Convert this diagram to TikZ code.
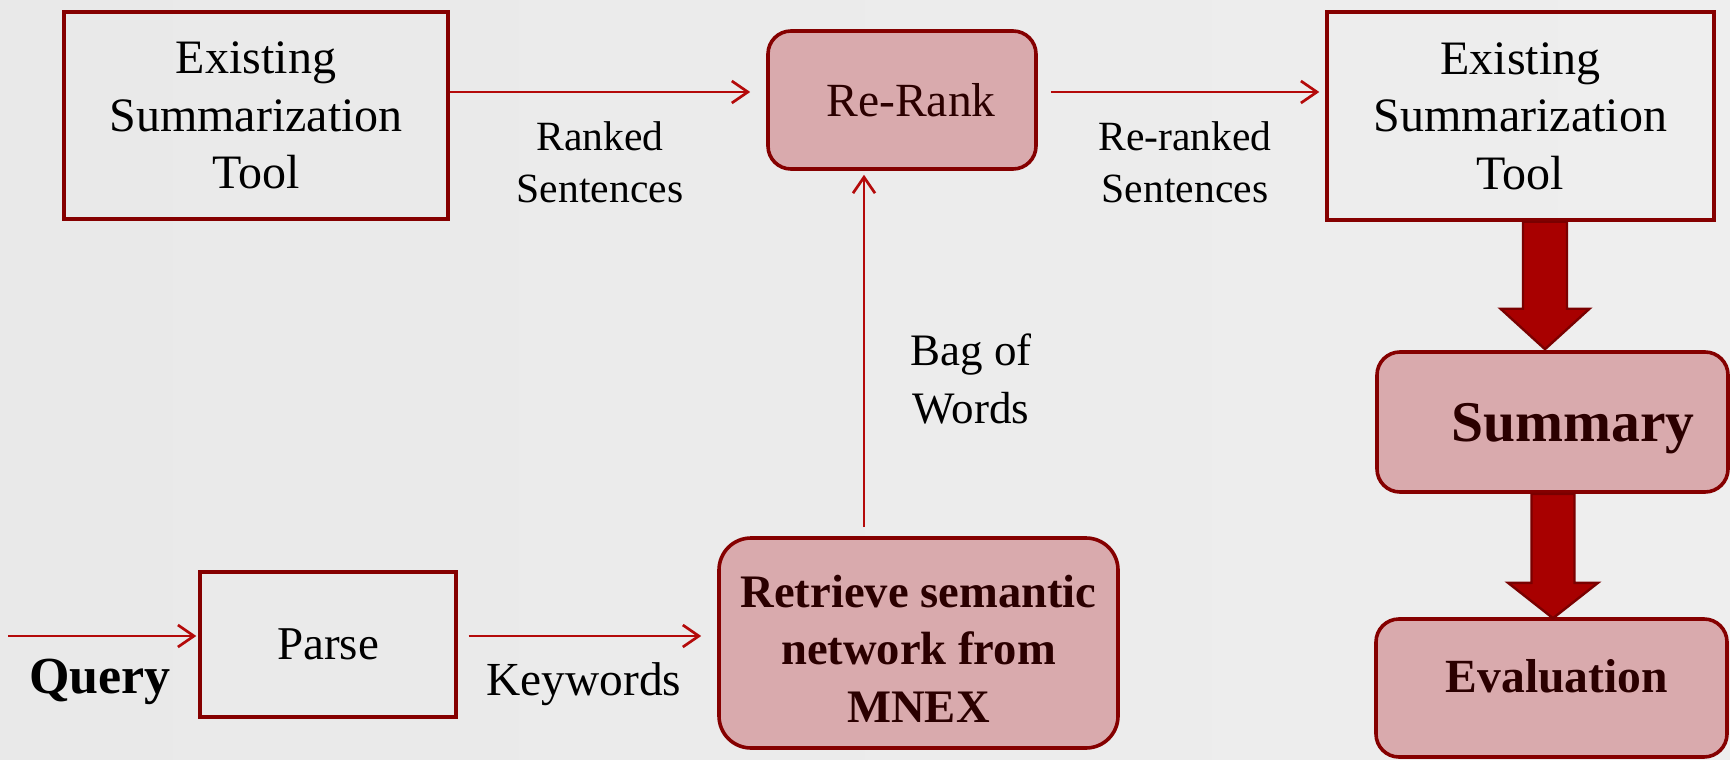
\documentclass[tikz,border=0pt]{standalone}
\usepackage{fontspec}
\setmainfont{Liberation Serif}
\usetikzlibrary{calc,arrows.meta}
\definecolor{bgl}{HTML}{E9E9E9}
\definecolor{bgm}{HTML}{F6F6F6}
\definecolor{bgr}{HTML}{EEEEEE}
\definecolor{boxred}{HTML}{850000}
\definecolor{pinkfill}{HTML}{D9AAAD}
\definecolor{pinktext}{HTML}{2B0000}
\definecolor{arrowred}{HTML}{B40A0A}
\definecolor{fatred}{HTML}{A80000}
\definecolor{fatedge}{HTML}{7A0000}
\begin{document}
\begin{tikzpicture}[x=0.5pt,y=-0.5pt,
  plainbox/.style={draw=boxred, line width=1.7pt, inner sep=0pt, align=center, text=black},
  pinkbox/.style={draw=boxred, line width=1.8pt, fill=pinkfill, rounded corners=11.5pt,
                  text=pinktext, inner sep=0pt, align=center},
  thinarrow/.style={draw=arrowred, line width=1.35pt, -{Straight Barb[length=8pt,width=11pt]}},
  fatarrow/.style={fill=fatred, draw=fatedge, line width=1.2pt, line join=miter},
  lbl/.style={anchor=base, align=center, inner sep=0pt, text=black}
]
\useasboundingbox (0,0) rectangle (1730,760);
\shade[left color=bgl, middle color=bgm, right color=bgr] (0,0) rectangle (1730,760);

% boxes
\node[plainbox, minimum width=192pt, minimum height=103.5pt,
      font=\fontsize{24}{28.75}\selectfont] (tool1) at (256,115.5)
      {Existing\\Summarization\\Tool};
\node[pinkbox, minimum width=134pt, minimum height=69pt,
      font=\fontsize{23.8}{28}\selectfont] (rerank) at (902,100)
      {\hspace*{9pt}Re-Rank};
\node[plainbox, minimum width=193.5pt, minimum height=104pt,
      font=\fontsize{24}{28.75}\selectfont] (tool2) at (1520.5,116)
      {Existing\\Summarization\\Tool};
\node[pinkbox, minimum width=175.5pt, minimum height=70pt, text depth=0pt,
      font=\bfseries\fontsize{28.8}{33}\selectfont] (summary) at (1552.5,422)
      {\hspace*{20.5pt}Summary};
\node[pinkbox, minimum width=175.5pt, minimum height=69pt, text depth=12pt,
      font=\bfseries\fontsize{23.8}{28}\selectfont] (evaluation) at (1551.5,688)
      {\hspace*{5.5pt}Evaluation};
\node[plainbox, minimum width=128pt, minimum height=72.5pt,
      font=\fontsize{23.5}{28}\selectfont] (parse) at (328,644.5) {Parse};
\node[pinkbox, rounded corners=16pt, minimum width=199.5pt, minimum height=105pt,
      text height=79pt, text depth=0pt,
      font=\bfseries\fontsize{23.3}{28.75}\selectfont] (retrieve) at (918.5,643)
      {Retrieve semantic\\network from\\MNEX};

% labels (base anchor = baseline of the last line)
\node[lbl, font=\fontsize{20.8}{26}\selectfont] (ranked) at (600,202) {Ranked\\Sentences};
\node[lbl, font=\fontsize{20.8}{26}\selectfont] (reranked) at (1185,202) {Re-ranked\\Sentences};
\node[lbl, font=\fontsize{22.5}{29}\selectfont] (bag) at (971,423) {Bag of\\Words};
\node[lbl, font=\bfseries\fontsize{26}{30}\selectfont] (query) at (100,693) {Query};
\node[lbl, font=\fontsize{23.7}{28}\selectfont] (keywords) at (584,695) {Keywords};

% thin connectors
\coordinate (a1s) at ([yshift=11.75pt]tool1.east);
\draw[thinarrow, shorten >=8pt] (a1s) -- (a1s -| rerank.west);
\coordinate (a2s) at ([yshift=4pt]rerank.east);
\draw[thinarrow, shorten <=6.5pt, shorten >=3pt] (a2s) -- (a2s -| tool2.west);
\coordinate (a3s) at ([xshift=-27.25pt]retrieve.north);
\draw[thinarrow, shorten <=4.5pt, shorten >=2pt] (a3s) -- (a3s |- rerank.south);
\coordinate (qin) at (8,636);
\draw[thinarrow, shorten >=1pt] (qin) -- (qin -| parse.west);
\coordinate (a5s) at ([yshift=4.25pt]parse.east);
\draw[thinarrow, shorten <=5.5pt, shorten >=8pt] (a5s) -- (a5s -| retrieve.west);

% fat arrows
\coordinate (f1t) at ($(tool2.south)+(24.5,0)$);
\coordinate (f1b) at ($(summary.north)+(-7.5,-1)$);
\draw[fatarrow] ($(f1t)+(-22,0)$) -- ($(f1t)+(22,0)$) -- ($(f1t)+(22,87)$)
  -- ($(f1t)+(44.5,87)$) -- (f1b) -- ($(f1t)+(-44.5,87)$) -- ($(f1t)+(-22,87)$) -- cycle;
\coordinate (f2t) at ($(summary.south)+(0.5,0)$);
\coordinate (f2b) at ($(evaluation.north)+(1.5,1)$);
\draw[fatarrow] ($(f2t)+(-21.5,0)$) -- ($(f2t)+(21.5,0)$) -- ($(f2t)+(21.5,89)$)
  -- ($(f2t)+(45,89)$) -- (f2b) -- ($(f2t)+(-45,89)$) -- ($(f2t)+(-21.5,89)$) -- cycle;
\end{tikzpicture}
\end{document}
